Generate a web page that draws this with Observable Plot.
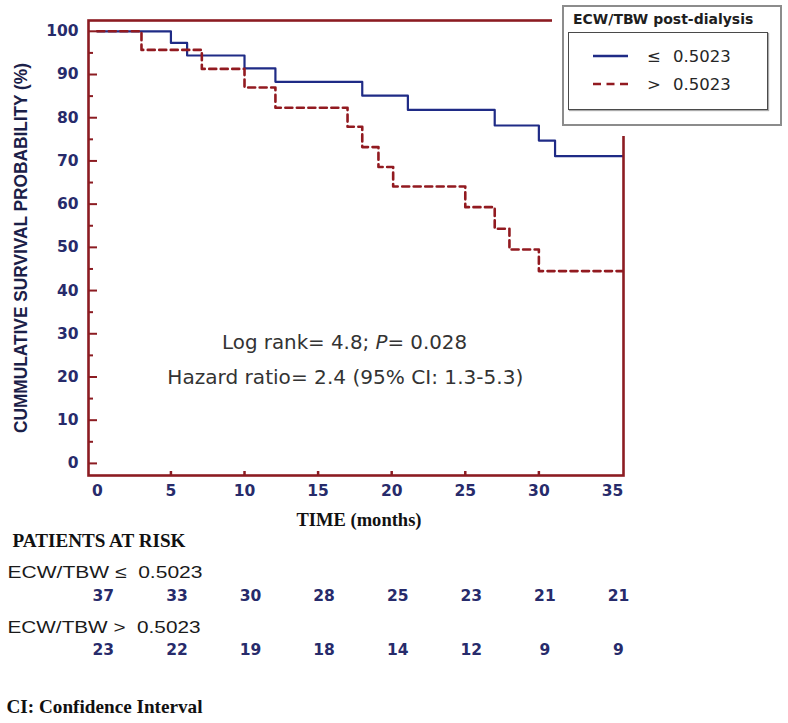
<!DOCTYPE html>
<html>
<head>
<meta charset="utf-8">
<script src="https://cdn.jsdelivr.net/npm/d3@7"></script>
<script src="https://cdn.jsdelivr.net/npm/@observablehq/plot@0.6"></script>
<style>
  body { margin: 0; background: #fff; }
  #wrap { position: relative; width: 788px; height: 723px; overflow: hidden; background: #fff; }
  #legend { position: absolute; left: 552px; top: 0; width: 236px; height: 136px; background: #fff; }
  #lbox { position: absolute; left: 10px; top: 5px; width: 220px; height: 121px; box-sizing: border-box;
          border: 2px solid #8c8c8c; background: #fff; }
  #ltitle { position: absolute; left: 9px; top: 4px; font-family: "DejaVu Sans", sans-serif; font-weight: bold;
            font-size: 14px; color: #1e1e1e; white-space: nowrap; }
  #linner { position: absolute; left: 4px; top: 25px; width: 200px; height: 78px; box-sizing: border-box;
            border: 1.5px solid #4a4a4a; box-shadow: 1px 1px 1px #aaa; }
  #linner svg { position: absolute; left: 0; top: 0; }
</style>
</head>
<body>
<div id="wrap">
  <div id="chart"></div>
  <div id="legend">
    <div id="lbox">
      <div id="ltitle">ECW/TBW post-dialysis</div>
      <div id="linner"></div>
    </div>
  </div>
</div>
<script>
// ---- data ----
const blueTime = [0, 5, 6.1, 10, 12.1, 18, 21.1, 27, 30, 31.1, 35.7];
const blueSurv = [100, 97.3, 94.4, 91.4, 88.3, 85.1, 81.8, 78.2, 74.7, 71.1, 71.1];
const redTime  = [0, 3, 7.1, 10, 12.1, 17, 18, 19.1, 20.1, 25, 27, 28, 30, 35.7];
const redSurv  = [100, 95.7, 91.3, 87.0, 82.3, 77.9, 73.2, 68.6, 64.1, 59.3, 54.3, 49.5, 44.5, 44.5];

const riskTimes = [0, 5, 10, 15, 20, 25, 30, 35];
const riskLow   = [37, 33, 30, 28, 25, 23, 21, 21];
const riskHigh  = [23, 22, 19, 18, 14, 12, 9, 9];

const xTicks = [0, 5, 10, 15, 20, 25, 30, 35];
const xTickMarks = [5, 10, 15, 20, 25, 30];
const yTicks = [0, 10, 20, 30, 40, 50, 60, 70, 80, 90, 100];
const yMinor = [5, 15, 25, 35, 45, 55, 65, 75, 85, 95];

const legendLabels = ["\u2264", ">"];
const legendValue = "0.5023";
const yLabel = "CUMMULATIVE SURVIVAL PROBABILITY (%)";
const xLabel = "TIME (months)";
const ann1 = ["Log rank= 4.8; ", "P", "= 0.028"];
const ann2 = "Hazard ratio= 2.4 (95% CI: 1.3-5.3)";
const riskTitle = "PATIENTS AT RISK";
const riskLabel1 = "ECW/TBW \u2264  0.5023";
const riskLabel2 = "ECW/TBW >  0.5023";
const footnote = "CI: Confidence Interval";

// ---- build ----
const blue = blueTime.map((t, i) => ({t, s: blueSurv[i]}));
const red = redTime.map((t, i) => ({t, s: redSurv[i]}));

const frameColor = "#8c1c22";
const blueColor = "#1f2b86";
const redColor = "#921a20";
const navy = "#272b6b";

const numStyle = {fontFamily: "DejaVu Sans", fontWeight: "bold", fontSize: 15.5, fill: navy};

const plot = Plot.plot({
  width: 788, height: 723,
  marginTop: 20, marginBottom: 248, marginLeft: 88, marginRight: 165,
  x: {domain: [-0.6, 35.75]},
  y: {domain: [-2.8, 102.5]},
  style: {background: "white", overflow: "visible"},
  marks: [
    Plot.line(blue, {x: "t", y: "s", curve: "step-after", stroke: blueColor, strokeWidth: 2.2}),
    Plot.line(red, {x: "t", y: "s", curve: "step-after", stroke: redColor, strokeWidth: 2.6, strokeDasharray: "7,4.5"}),
    Plot.frame({stroke: frameColor, strokeWidth: 2.6}),
    Plot.axisY(yTicks, {tickSize: -9, fill: "none", stroke: frameColor, strokeWidth: 2, label: null}),
    Plot.axisY(yMinor, {tickSize: -5, fill: "none", stroke: frameColor, strokeWidth: 2, label: null}),
    Plot.axisY(yTicks, {tickSize: 0, tickPadding: 10, label: null, ...numStyle}),
    Plot.axisX(xTickMarks, {tickSize: -4, fill: "none", stroke: frameColor, strokeWidth: 2.5, label: null}),
    Plot.axisX(xTicks, {tickSize: 0, tickPadding: 9, label: null, ...numStyle}),
    Plot.text([yLabel], {frameAnchor: "left", textAnchor: "middle", rotate: -90, dx: -68, dy: 0,
                         fontFamily: "Liberation Sans", fontWeight: "bold",
                         fontSize: 19, fill: "#1b2048", className: "ylab"}),
    Plot.text([xLabel], {frameAnchor: "bottom", dx: 3, dy: 50, fontFamily: "Liberation Serif", fontWeight: "bold",
                         fontSize: 18, fill: "#111", className: "xlab"}),
    Plot.text([ann1.join("")], {x: 16.8, y: 28.0, fontFamily: "DejaVu Sans", fontSize: 19.5, fill: "#333", className: "ann1"}),
    Plot.text([ann2], {x: 16.85, y: 19.9, fontFamily: "DejaVu Sans", fontSize: 19.5, fill: "#333", className: "ann2"}),
    Plot.text([riskTitle], {frameAnchor: "bottom-left", textAnchor: "start", dx: -76, dy: 71, fontFamily: "Liberation Serif",
                            fontWeight: "bold", fontSize: 18.5, fill: "#111", className: "rtitle"}),
    Plot.text([riskLabel1], {frameAnchor: "bottom-left", textAnchor: "start", dx: -81, dy: 102, fontFamily: "Liberation Sans",
                             fontSize: 17, fill: "#1a1a1a", className: "lab1"}),
    Plot.text(riskTimes, {x: d => d, text: (d, i) => String(riskLow[i]), frameAnchor: "bottom", dx: 6, dy: 125, ...numStyle}),
    Plot.text([riskLabel2], {frameAnchor: "bottom-left", textAnchor: "start", dx: -81, dy: 157, fontFamily: "Liberation Sans",
                             fontSize: 17, fill: "#1a1a1a", className: "lab2"}),
    Plot.text(riskTimes, {x: d => d, text: (d, i) => String(riskHigh[i]), frameAnchor: "bottom", dx: 6, dy: 179, ...numStyle}),
    Plot.text([footnote], {frameAnchor: "bottom-left", textAnchor: "start", dx: -82, dy: 237, fontFamily: "Liberation Serif",
                           fontWeight: "bold", fontSize: 19, fill: "#111", className: "foot"})
  ]
});

document.getElementById("chart").appendChild(plot);

// italic P in the log-rank annotation
const t1 = d3.select(plot).select("g.ann1 text");
t1.text(null);
t1.append("tspan").text(ann1[0]);
t1.append("tspan").attr("font-style", "italic").text(ann1[1]);
t1.append("tspan").text(ann1[2]);

function fit(cls, len) {
  d3.select(plot).selectAll(`g.${cls} text`).attr("textLength", len).attr("lengthAdjust", "spacingAndGlyphs");
}
fit("ylab", 370);
fit("lab1", 195);
fit("lab2", 193);
fit("xlab", 125);
fit("rtitle", 173);
fit("foot", 196);
fit("ann1", 245);
fit("ann2", 356);

// ---- legend ----
const lsvg = d3.select("#linner").append("svg").attr("width", 200).attr("height", 78);
const rows = [
  {y: 23, stroke: blueColor, dash: null, w: 2.4, sym: legendLabels[0]},
  {y: 51, stroke: redColor, dash: "8,5.5", w: 2.6, sym: legendLabels[1]}
];
rows.forEach(r => {
  lsvg.append("line").attr("x1", 24).attr("x2", 59).attr("y1", r.y).attr("y2", r.y)
    .attr("stroke", r.stroke).attr("stroke-width", r.w).attr("stroke-dasharray", r.dash);
  lsvg.append("text").attr("x", 78).attr("y", r.y + 6).attr("font-family", "DejaVu Sans").attr("font-size", 16.5)
    .attr("fill", "#262626").text(r.sym);
  lsvg.append("text").attr("x", 104).attr("y", r.y + 6).attr("font-family", "DejaVu Sans").attr("font-size", 16.5)
    .attr("fill", "#262626").text(legendValue);
});
</script>
</body>
</html>
